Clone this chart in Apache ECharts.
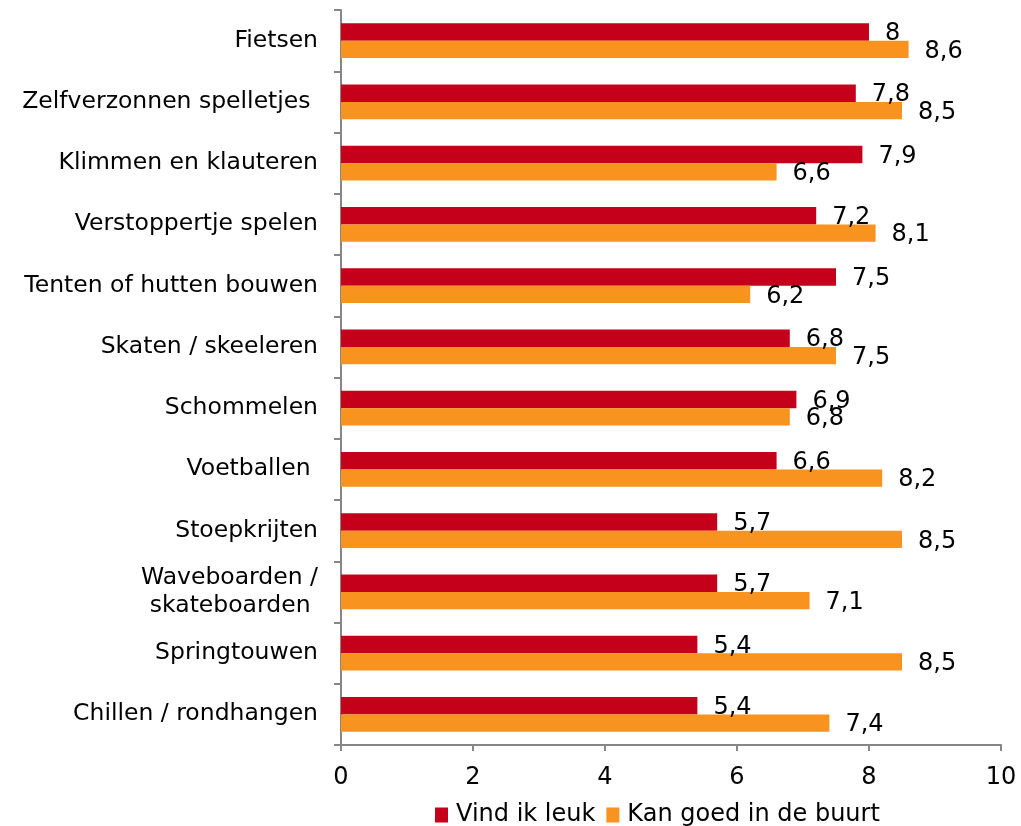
<!DOCTYPE html>
<html>
<head>
<meta charset="utf-8">
<script src="https://cdn.jsdelivr.net/npm/echarts@6/dist/echarts.min.js"></script>
<style>
    html, body { margin: 0; padding: 0; background: #fff; }
    #chart { width: 1021px; height: 826px; }
</style>
</head>
<body>
<div id="chart"></div>
<script>
'use strict';

var categories = ['Fietsen', 'Zelfverzonnen spelletjes ', 'Klimmen en klauteren', 'Verstoppertje spelen',
    'Tenten of hutten bouwen', 'Skaten / skeeleren', 'Schommelen', 'Voetballen ', 'Stoepkrijten',
    'Waveboarden /\nskateboarden ', 'Springtouwen', 'Chillen / rondhangen'];
var vindIkLeuk = [8, 7.8, 7.9, 7.2, 7.5, 6.8, 6.9, 6.6, 5.7, 5.7, 5.4, 5.4];
var kanGoed = [8.6, 8.5, 6.6, 8.1, 6.2, 7.5, 6.8, 8.2, 8.5, 7.1, 8.5, 7.4];
var seriesNames = ['Vind ik leuk', 'Kan goed in de buurt'];

var FONT = 'DejaVu Sans';
var AXIS_COLOR = '#868686';

var chart = echarts.init(document.getElementById('chart'));

// label met komma als decimaalteken
function labelOpts() {
    return {
        show: true,
        position: 'right',
        distance: 16,
        offset: [0, 2],
        color: '#000',
        fontFamily: FONT,
        fontSize: 24,
        formatter: function (p) {
            return String(p.value).replace('.', ',');
        }
    };
}

var option = {
    animation: false,
    textStyle: { fontFamily: FONT },
    color: ['#C5001A', '#F7931E'],
    legend: {
        data: seriesNames,
        bottom: -6,
        left: 430,
        itemWidth: 13,
        itemHeight: 15,
        itemGap: 11,
        icon: 'rect',
        textStyle: { fontFamily: FONT, fontSize: 24, color: '#000', padding: [0, 0, 0, 3] }
    },
    grid: {
        left: 341,
        right: 20,
        top: 10,
        bottom: 81,
        containLabel: false
    },
    xAxis: {
        type: 'value',
        min: 0,
        max: 10,
        interval: 2,
        splitLine: { show: false },
        axisLine: { show: true, lineStyle: { color: AXIS_COLOR, width: 2 } },
        axisTick: { show: true, length: 6, lineStyle: { color: AXIS_COLOR, width: 2 } },
        axisLabel: { color: '#000', fontFamily: FONT, fontSize: 24, margin: 21 }
    },
    yAxis: {
        type: 'category',
        data: categories,
        inverse: true,
        axisLine: { show: true, lineStyle: { color: AXIS_COLOR, width: 2 } },
        axisTick: { show: true, length: 7, lineStyle: { color: AXIS_COLOR, width: 2 } },
        axisLabel: { color: '#000', fontFamily: FONT, fontSize: 23.5, margin: 23, lineHeight: 28, align: 'right' }
    },
    series: [{
        name: seriesNames[0],
        type: 'bar',
        data: vindIkLeuk,
        barGap: '0%',
        barCategoryGap: '43%',
        label: labelOpts()
    }, {
        name: seriesNames[1],
        type: 'bar',
        data: kanGoed,
        barGap: '0%',
        barCategoryGap: '43%',
        label: labelOpts()
    }]
};

chart.setOption(option);
</script>
</body>
</html>
